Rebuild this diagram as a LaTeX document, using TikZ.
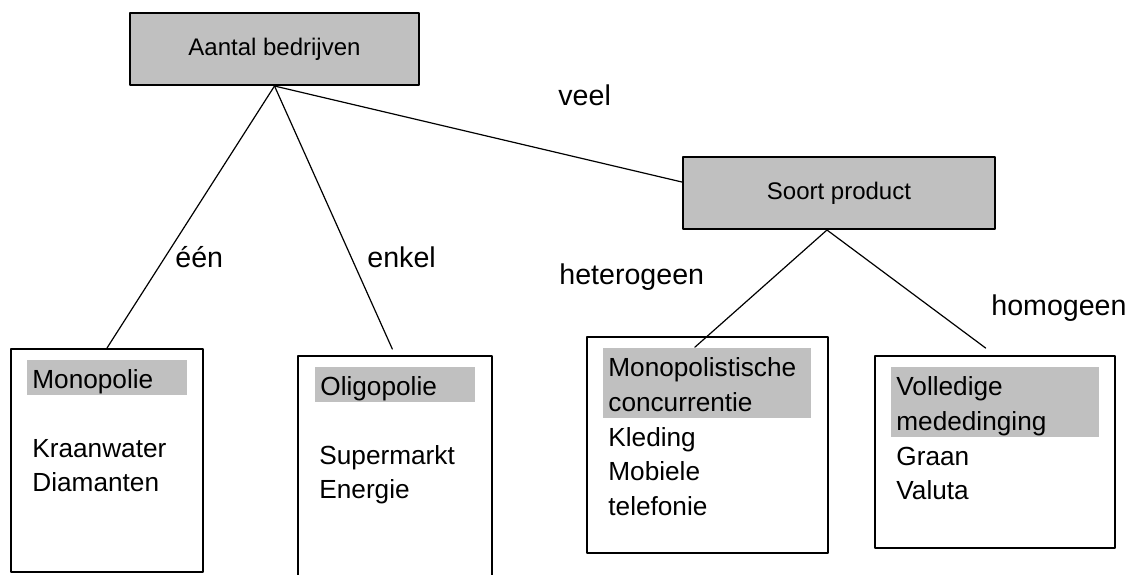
\documentclass[tikz,border=0pt]{standalone}
\usepackage{fontspec}
\setmainfont{Liberation Sans}

\definecolor{grijs}{HTML}{C0C0C0}

\tikzset{
    vraag/.style={draw, line width=1pt, fill=grijs, inner sep=0, font=\fontsize{12}{14}\selectfont},
    vak/.style={draw, line width=1pt, inner sep=0},
    kop/.style={fill=grijs, anchor=north west, inner xsep=2.5pt, inner ysep=0, align=left,
        text width=75pt, text height=14pt, text depth=3.5pt, font=\fontsize{13.1}{17.3}\selectfont},
    breedkop/.style={kop, text width=99pt, text depth=20.8pt},
    inhoud/.style={anchor=base west, inner sep=0, align=left, text width=90pt,
        font=\fontsize{13.1}{17.3}\selectfont},
    keuze/.style={anchor=base west, inner sep=0, font=\fontsize{14.3}{17}\selectfont},
    tak/.style={line width=0.6pt}
}

\begin{document}
\begin{tikzpicture}[x=0.5pt, y=-0.5pt, line cap=round, line join=round]

    % Frame
    \useasboundingbox (0,0) rectangle (1131,574);
    \clip (0,0) rectangle (1131,574);

    % Questions
    \node[vraag, minimum width=144.5pt, minimum height=36pt] (aantal) at (274.5,49) {Aantal bedrijven};
    \node[vraag, minimum width=156pt, minimum height=36pt] (soort) at (839,193) {Soort product};

    % Market forms
    \node[vak, minimum width=96pt, minimum height=111.5pt] (mono) at (107,460.5) {};
    \node[vak, minimum width=97pt, minimum height=114pt] (oligo) at (395,470) {};
    \node[vak, minimum width=120.5pt, minimum height=108pt] (monoco) at (707.5,445) {};
    \node[vak, minimum width=120pt, minimum height=96pt] (vol) at (995,452) {};

    \node[kop] (monokop) at (27,360) {Monopolie};
    \node[kop] (oligokop) at (315,367) {Oligopolie};
    \node[breedkop] (monocokop) at (603,348) {Monopolistische\\concurrentie};
    \node[breedkop] (volkop) at (891,367) {Volledige\\mededinging};

    % Examples
    \node[inhoud] (monovb) at (32,457) {Kraanwater\\Diamanten};
    \node[inhoud] (oligovb) at (319,464) {Supermarkt\\Energie};
    \node[inhoud] (monocovb) at (608,446) {Kleding\\Mobiele\\telefonie};
    \node[inhoud] (volvb) at (896,465) {Graan\\Valuta};

    % Branches
    \draw[tak] (aantal.south) -- (mono.north);
    \draw[tak, shorten >=3.3pt] (aantal.south) -- (oligo.north);
    \draw[tak] (aantal.south) -- (soort.176);
    \draw[tak, shorten >=-8.5pt] (soort.252) -- (monoco.north);
    \draw[tak, shorten >=5.8pt] (soort.252) -- (vol.north);

    % Choices
    \node[keuze] (een) at (175,267) {één};
    \node[keuze] (enkel) at (367,267) {enkel};
    \node[keuze] (veel) at (558,105) {veel};
    \node[keuze] (hetero) at (559,284) {heterogeen};
    \node[keuze] (homo) at (991,315) {homogeen};

\end{tikzpicture}
\end{document}
